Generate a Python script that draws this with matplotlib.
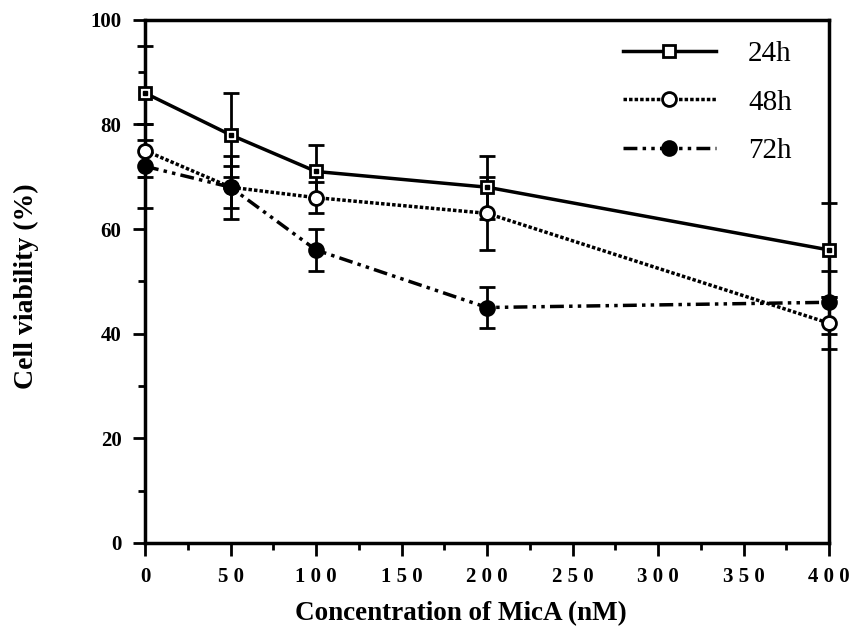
import numpy as np
import matplotlib.pyplot as plt
from matplotlib.ticker import MultipleLocator

conc = [0, 50, 100, 200, 400]
via_24h = [86, 78, 71, 68, 56]
err_24h = [9, 8, 5, 6, 9]
via_48h = [75, 68, 66, 63, 42]
err_48h = [5, 6, 3, 7, 5]
via_72h = [72, 68, 56, 45, 46]
err_72h = [8, 4, 4, 4, 6]

x_ticks = [0, 50, 100, 150, 200, 250, 300, 350, 400]
x_ticklabels = ["0", "5 0", "1 0 0", "1 5 0", "2 0 0", "2 5 0", "3 0 0", "3 5 0", "4 0 0"]
y_ticks = [0, 20, 40, 60, 80, 100]

plt.rcParams['font.family'] = ['Liberation Serif', 'DejaVu Serif']

fig = plt.figure(figsize=(8.53, 6.38), dpi=100)
ax = fig.add_axes([0.170, 0.149, 0.802, 0.820])

common = dict(color='black', ecolor='black', elinewidth=2, capsize=6, capthick=2,
              lw=2.5, markeredgewidth=2, clip_on=False, zorder=3)

e24 = ax.errorbar(conc, via_24h, yerr=err_24h, ls='-', marker='s', markerfacecolor='white',
                  markersize=9, **common)
e48 = ax.errorbar(conc, via_48h, yerr=err_48h, ls=(0, (1, 0.6)), marker='o',
                  markerfacecolor='white', markersize=10, **common)
e72 = ax.errorbar(conc, via_72h, yerr=err_72h, ls=(0, (4, 1.5, 1, 1.5, 1, 1.5)), marker='o',
                  markerfacecolor='black', markersize=10, **common)
# small dot inside the square markers
ax.plot(conc, via_24h, ls='none', marker='s', markersize=2.5, color='black', zorder=4,
        clip_on=False)

ax.set_xlim(0, 400)
ax.set_ylim(0, 100)
ax.set_xticks(x_ticks)
ax.set_xticklabels(x_ticklabels)
ax.set_yticks(y_ticks)
ax.xaxis.set_minor_locator(MultipleLocator(25))
ax.yaxis.set_minor_locator(MultipleLocator(10))
ax.tick_params(which='major', direction='out', length=9, width=2, labelsize=15, pad=8)
ax.tick_params(which='minor', direction='out', length=5, width=2)
ax.tick_params(axis='y', which='both', right=False)
ax.tick_params(axis='x', which='both', top=False)
for lab in ax.get_xticklabels() + ax.get_yticklabels():
    lab.set_fontweight('bold')
for s in ax.spines.values():
    s.set_linewidth(2.5)

ax.set_xlabel("Concentration of MicA (nM)", fontsize=19.5, fontweight='bold')
ax.xaxis.set_label_coords(0.462, -0.112)
ax.set_ylabel("Cell viability (%)", fontsize=20, fontweight='bold')
ax.yaxis.set_label_coords(-0.155, 0.49)

handles = [e24.lines[0], e48.lines[0], e72.lines[0]]
ax.legend(handles, ['24h', '48h', '72h'], loc='upper left', bbox_to_anchor=(0.66, 1.01),
          frameon=False, fontsize=21, handlelength=3.2, labelspacing=0.75,
          handletextpad=1.1)

fig.savefig("out.png", dpi=100)
